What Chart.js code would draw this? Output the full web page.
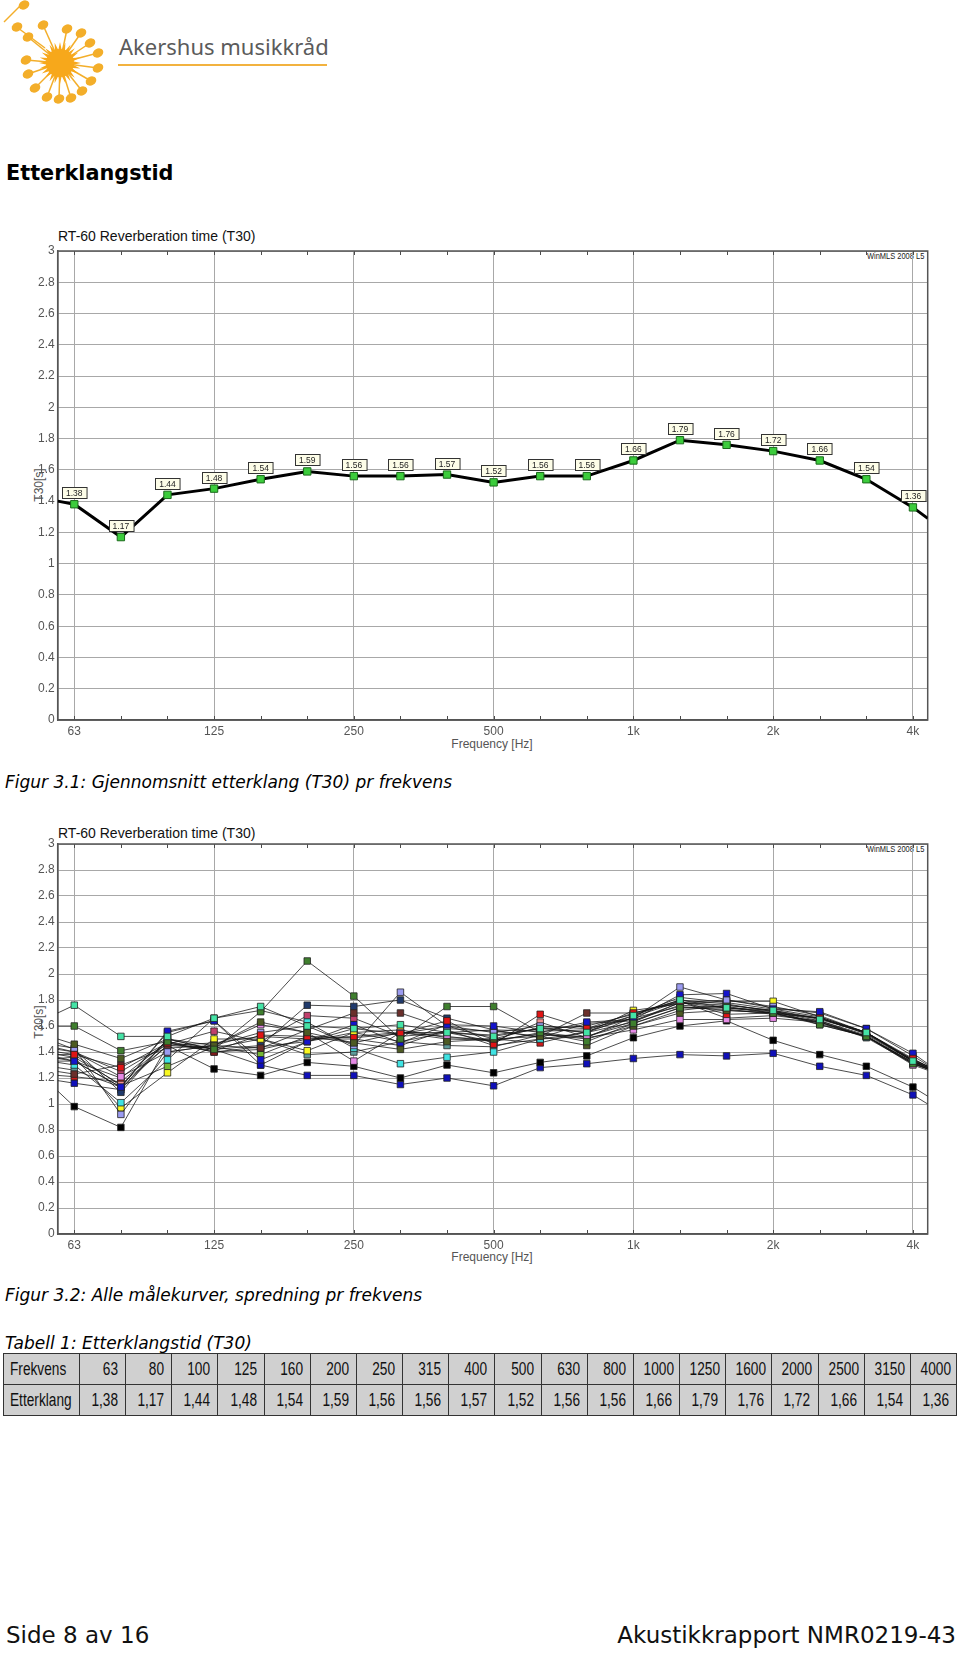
<!DOCTYPE html>
<html><head><meta charset="utf-8">
<script src="https://cdn.jsdelivr.net/npm/chart.js@4.4.1/dist/chart.umd.min.js"></script>
<style>
html,body{margin:0;padding:0;background:#fff;}
#page{position:relative;width:960px;height:1653px;overflow:hidden;font-family:"DejaVu Sans",Verdana,sans-serif;color:#000;}
.abs{position:absolute;white-space:nowrap;line-height:1;}
.ctitle{font-family:"Liberation Sans",Arial,sans-serif;font-size:14px;color:#111;}
.winmls{font-family:"Liberation Sans",Arial,sans-serif;font-size:9px;color:#222;transform:scaleX(0.83);transform-origin:left center;}
.ytitle{font-family:"Liberation Sans",Arial,sans-serif;font-size:12px;color:#555;transform:translate(-50%,-50%) rotate(-90deg);}
.xtitle{font-family:"Liberation Sans",Arial,sans-serif;font-size:12px;color:#555;transform:translate(-50%,-50%);}
.caption{font-family:"DejaVu Sans",Verdana,sans-serif;font-style:italic;font-size:17px;}
#tbl{position:absolute;left:3px;top:1353px;border-collapse:collapse;table-layout:fixed;width:954px;}
#tbl td{border:1.5px solid #333;background:#d0d0d0;height:30px;padding:0 7px 0 0;text-align:right;font-family:"Liberation Sans",Arial,sans-serif;font-size:18px;color:#111;overflow:visible;white-space:nowrap;}
#tbl td span{display:inline-block;transform:scaleX(0.76);transform-origin:right center;}
#tbl td.first{text-align:left;padding:0 0 0 6px;}
#tbl td.first span{transform-origin:left center;}
</style></head><body>
<div id="page">
  <svg id="logo" class="abs" style="left:0;top:0" width="115" height="110" viewBox="0 0 115 110"></svg>
  <div class="abs" style="left:119px;top:35px;font-family:'Noto Sans',sans-serif;font-size:22px;color:#5b5b5b;">Akershus musikkråd</div>
  <div class="abs" style="left:118px;top:64px;width:209px;height:2px;background:#f2b23f;"></div>

  <div class="abs" style="left:6px;top:163px;font-family:'DejaVu Sans',Verdana,sans-serif;font-weight:bold;font-size:20.8px;">Etterklangstid</div>

  <div class="abs ctitle" style="left:58px;top:229px;">RT-60 Reverberation time (T30)</div>
  <div class="abs winmls" style="left:867px;top:252px;">WinMLS 2008 L5</div>
  <div class="abs ytitle" style="left:39px;top:485px;">T30[s]</div>
  <div class="abs xtitle" style="left:492px;top:744px;">Frequency [Hz]</div>
  <div class="abs" style="left:0;top:205px;width:960px;height:560px;"><canvas id="c1" width="960" height="560"></canvas></div>

  <div class="abs caption" style="left:5px;top:774px;">Figur 3.1: Gjennomsnitt etterklang (T30) pr frekvens</div>

  <div class="abs ctitle" style="left:58px;top:826px;">RT-60 Reverberation time (T30)</div>
  <div class="abs winmls" style="left:867px;top:845px;">WinMLS 2008 L5</div>
  <div class="abs ytitle" style="left:39px;top:1022px;">T30[s]</div>
  <div class="abs xtitle" style="left:492px;top:1257px;">Frequency [Hz]</div>
  <div class="abs" style="left:0;top:790px;width:960px;height:480px;"><canvas id="c2" width="960" height="480"></canvas></div>

  <div class="abs caption" style="left:5px;top:1287px;">Figur 3.2: Alle målekurver, spredning pr frekvens</div>

  <div class="abs caption" style="left:5px;top:1335px;">Tabell 1: Etterklangstid (T30)</div>
  <table id="tbl"></table>

  <div class="abs" style="left:6px;top:1624px;font-size:23px;color:#111;">Side 8 av 16</div>
  <div class="abs" style="right:4px;top:1624px;font-size:23px;color:#111;">Akustikkrapport NMR0219-43</div>
</div>
<script>
// ---------------- DATA ----------------
const bandCenters = ['63','80','100','125','160','200','250','315','400','500','630','800','1000','1250','1600','2000','2500','3150','4000'];
const octaveTickIndex = [0,3,6,9,12,15,18];
const octaveTickLabels = ['63','125','250','500','1k','2k','4k'];
const avgT30 = [1.38,1.17,1.44,1.48,1.54,1.59,1.56,1.56,1.57,1.52,1.56,1.56,1.66,1.79,1.76,1.72,1.66,1.54,1.36];
const avgEdges = [1.40,1.29];

const curveMint     = [1.76,1.52,1.52,1.66,1.75,1.60,1.58,1.61,1.55,1.52,1.58,1.55,1.68,1.80,1.74,1.72,1.65,1.55,1.33];
const curveDkGreen  = [1.60,1.41,1.48,1.42,1.71,2.10,1.83,1.50,1.75,1.75,1.55,1.48,1.62,1.74,1.75,1.70,1.61,1.52,1.31];
const curveOlive    = [1.46,1.35,1.50,1.45,1.63,1.55,1.47,1.42,1.48,1.50,1.52,1.45,1.60,1.70,1.72,1.70,1.63,1.52,1.32];
const curveRed      = [1.38,1.28,1.47,1.41,1.53,1.52,1.51,1.54,1.64,1.46,1.69,1.58,1.70,1.79,1.69,1.70,1.66,1.55,1.35];
const curveBlue     = [1.33,1.13,1.56,1.64,1.34,1.48,1.61,1.47,1.61,1.60,1.55,1.63,1.65,1.84,1.85,1.73,1.71,1.58,1.39];
const curveLavender = [1.43,0.92,1.40,1.45,1.55,1.60,1.45,1.86,1.60,1.55,1.60,1.58,1.66,1.90,1.80,1.75,1.68,1.55,1.34];
const curveViolet   = [1.40,1.21,1.40,1.45,1.61,1.55,1.33,1.55,1.52,1.48,1.55,1.51,1.57,1.65,1.65,1.66,1.63,1.52,1.30];
const curveCyan     = [1.30,1.01,1.34,1.66,1.72,1.63,1.43,1.31,1.36,1.40,1.50,1.55,1.63,1.78,1.76,1.72,1.66,1.54,1.33];
const curveYellow   = [1.36,0.97,1.24,1.50,1.50,1.41,1.55,1.57,1.51,1.50,1.59,1.55,1.72,1.77,1.79,1.79,1.67,1.55,1.33];
const curveBrown    = [1.23,1.30,1.43,1.45,1.43,1.57,1.70,1.70,1.58,1.56,1.52,1.70,1.70,1.78,1.74,1.70,1.62,1.52,1.32];
const curveNavy     = [1.42,1.09,1.50,1.42,1.45,1.76,1.75,1.80,1.66,1.57,1.56,1.57,1.68,1.82,1.78,1.73,1.67,1.55,1.34];
const curveMaroon   = [1.40,1.25,1.46,1.56,1.48,1.68,1.66,1.52,1.55,1.53,1.58,1.60,1.69,1.80,1.77,1.71,1.66,1.54,1.34];
const curveSalmon   = [1.36,1.15,1.45,1.47,1.52,1.50,1.52,1.55,1.55,1.48,1.63,1.51,1.67,1.79,1.66,1.68,1.64,1.53,1.33];
const curveGreen    = [1.38,1.14,1.29,1.44,1.38,1.52,1.47,1.55,1.50,1.49,1.54,1.50,1.60,1.72,1.76,1.72,1.61,1.52,1.31];
const curveTeal     = [1.26,1.13,1.45,1.43,1.50,1.38,1.40,1.48,1.45,1.44,1.53,1.52,1.62,1.74,1.73,1.69,1.63,1.51,1.31];
const curveRed2     = [1.21,1.17,1.47,1.40,1.44,1.48,1.58,1.54,1.60,1.50,1.47,1.56,1.66,1.75,1.72,1.70,1.66,1.55,1.33];
const curveGrey     = [1.33,1.20,1.48,1.40,1.42,1.50,1.50,1.45,1.57,1.45,1.50,1.52,1.64,1.76,1.74,1.71,1.64,1.52,1.32];
const curveBlue3    = [1.33,1.13,1.55,1.64,1.30,1.48,1.55,1.48,1.55,1.57,1.51,1.62,1.64,1.78,1.80,1.74,1.70,1.58,1.37];
const curveBlack    = [0.98,0.82,1.45,1.27,1.22,1.32,1.29,1.20,1.30,1.24,1.32,1.37,1.51,1.60,1.64,1.49,1.38,1.29,1.13];
const curveBlueLow  = [1.16,1.11,1.50,1.42,1.30,1.22,1.22,1.15,1.20,1.14,1.28,1.31,1.35,1.38,1.37,1.39,1.29,1.22,1.07];

const curveList = [curveMint,curveDkGreen,curveOlive,curveRed,curveBlue,curveLavender,curveViolet,curveCyan,curveYellow,curveBrown,curveNavy,curveMaroon,curveSalmon,curveGreen,curveTeal,curveRed2,curveGrey,curveBlue3,curveBlack,curveBlueLow];
const curveColors = ['#45e3a6','#3f7f2e','#4d5a22','#e01414','#1414cc','#9b9bf0','#e68ae6','#3fe3e3','#f8f820','#6a2e2a','#203a6c','#c0406c','#f09090','#74b834','#5e9c9a','#cc1a1a','#3a3a3a','#0c0cbb','#000000','#1010b8'];
const curveEdgeLeft  = [1.70,1.60,1.50,1.40,1.35,1.45,1.43,1.32,1.35,1.25,1.47,1.42,1.38,1.38,1.28,1.22,1.36,1.33,1.10,1.18];
const curveEdgeRight = [1.28,1.27,1.28,1.29,1.31,1.29,1.26,1.28,1.28,1.27,1.29,1.29,1.28,1.27,1.27,1.28,1.27,1.30,1.06,1.00];

// ---------------- helpers ----------------
const X_MIN = -0.356, X_MAX = 18.317;
function toPoints(vals, edges){
  const pts = [{x:X_MIN, y:edges[0]}];
  vals.forEach((v,i)=>pts.push({x:i,y:v}));
  pts.push({x:X_MAX, y:edges[1]});
  return pts;
}
const isEdge = ctx => ctx.dataIndex===0 || ctx.dataIndex===ctx.dataset.data.length-1;

const framePlugin = {
  id:'frame',
  beforeDatasetsDraw(chart){
    const {ctx, chartArea:a, scales:{x}} = chart;
    ctx.save();
    ctx.strokeStyle='#4a4a4a'; ctx.lineWidth=1;
    for(let i=0;i<bandCenters.length;i++){
      const px = Math.round(x.getPixelForValue(i))+0.5;
      ctx.beginPath(); ctx.moveTo(px,a.bottom); ctx.lineTo(px,a.bottom-4); ctx.stroke();
      ctx.beginPath(); ctx.moveTo(px,a.top); ctx.lineTo(px,a.top+4); ctx.stroke();
    }
    ctx.strokeStyle='#555'; ctx.lineWidth=1.5;
    ctx.strokeRect(a.left,a.top,a.right-a.left,a.bottom-a.top);
    ctx.restore();
  }
};

const labelPlugin = {
  id:'valueBoxes',
  afterDatasetsDraw(chart){
    const meta = chart.getDatasetMeta(0);
    const {ctx} = chart;
    ctx.save();
    ctx.font = '8.5px "Liberation Sans", Arial, sans-serif';
    ctx.textAlign='center'; ctx.textBaseline='middle';
    meta.data.forEach((el,i)=>{
      if(i===0 || i===meta.data.length-1) return;
      const v = chart.data.datasets[0].data[i].y;
      const txt = v.toFixed(2);
      const w = ctx.measureText(txt).width + 8, h = 11;
      const bx = Math.round(el.x - w/2)+0.5, by = Math.round(el.y - 6 - h)+0.5;
      ctx.fillStyle='#fdfde8'; ctx.fillRect(bx,by,w,h);
      ctx.strokeStyle='#333'; ctx.lineWidth=1; ctx.strokeRect(bx,by,w,h);
      ctx.fillStyle='#222'; ctx.fillText(txt, el.x, by+h/2+0.5);
    });
    ctx.restore();
  }
};

function makeScales(xHeight){
  return {
    x:{
      type:'linear', min:X_MIN, max:X_MAX,
      afterBuildTicks(s){ s.ticks = octaveTickIndex.map(v=>({value:v})); },
      afterFit(s){ s.height = xHeight; },
      grid:{color:'#a8a8a8', lineWidth:1, drawTicks:false},
      border:{display:true, color:'#555', width:1.5},
      ticks:{autoSkip:false, maxRotation:0, padding:4, color:'#555',
        font:{family:'"Liberation Sans", Arial, sans-serif', size:12},
        callback:(v)=>{ const k = octaveTickIndex.indexOf(v); return k>=0 ? octaveTickLabels[k] : ''; }}
    },
    y:{
      min:0, max:3,
      afterFit(s){ s.width = 57.7; },
      grid:{color:'#a8a8a8', lineWidth:1, drawTicks:false},
      border:{display:true, color:'#555', width:1.5},
      ticks:{stepSize:0.2, padding:3, color:'#555',
        font:{family:'"Liberation Sans", Arial, sans-serif', size:12},
        callback:(v)=>String(+(+v).toFixed(1))}
    }
  };
}

// ---------------- chart 1 ----------------
new Chart(document.getElementById('c1'), {
  type:'line',
  data:{datasets:[{
    data: toPoints(avgT30, avgEdges),
    borderColor:'#000', borderWidth:3, tension:0,
    pointStyle:'rect',
    pointRadius: ctx => isEdge(ctx) ? 0 : 5.2,
    pointBackgroundColor:'#3ccc3c', pointBorderColor:'#1a6a1a', pointBorderWidth:1
  }]},
  options:{
    responsive:false, animation:false,
    layout:{padding:{top:46, right:32.3, left:0, bottom:0}},
    plugins:{legend:{display:false}, tooltip:{enabled:false}, title:{display:false}},
    scales: makeScales(45)
  },
  plugins:[framePlugin, labelPlugin]
});

// ---------------- chart 2 ----------------
new Chart(document.getElementById('c2'), {
  type:'line',
  data:{datasets: curveList.map((vals,k)=>({
    data: toPoints(vals, [curveEdgeLeft[k], curveEdgeRight[k]]),
    borderColor:'rgba(20,20,20,0.85)', borderWidth:0.9, tension:0,
    pointStyle:'rect',
    pointRadius: ctx => isEdge(ctx) ? 0 : 4.6,
    pointBackgroundColor: curveColors[k], pointBorderColor:'#222', pointBorderWidth:0.8
  }))},
  options:{
    responsive:false, animation:false,
    layout:{padding:{top:54, right:32.3, left:0, bottom:0}},
    plugins:{legend:{display:false}, tooltip:{enabled:false}, title:{display:false}},
    scales: makeScales(36)
  },
  plugins:[framePlugin]
});

// ---------------- table ----------------
(function(){
  const t = document.getElementById('tbl');
  let h = '<colgroup><col style="width:76px">' + bandCenters.map(()=>'<col>').join('') + '</colgroup>';
  h += '<tr><td class="first"><span>Frekvens</span></td>' + bandCenters.map(f=>'<td><span>'+f+'</span></td>').join('') + '</tr>';
  h += '<tr><td class="first"><span>Etterklang</span></td>' + avgT30.map(v=>'<td><span>'+v.toFixed(2).replace('.',',')+'</span></td>').join('') + '</tr>';
  t.innerHTML = h;
})();

// ---------------- logo ----------------
(function(){
  const svg = document.getElementById('logo');
  const NS='http://www.w3.org/2000/svg';
  const col='#f3ae2a';
  const cx=60, cy=63;
  function el(n,a){const e=document.createElementNS(NS,n);for(const k in a)e.setAttribute(k,a[k]);svg.appendChild(e);return e;}
  const heads=[[28,37],[43,25],[67,29],[81,33],[90,43],[98,53],[98,68],[91,81],[82,91],[71,98],[59,99],[47,97],[35,88],[28,74],[26,60]];
  heads.forEach(([hx,hy])=>{
    el('line',{x1:cx,y1:cy,x2:hx,y2:hy,stroke:col,'stroke-width':1.5});
    el('ellipse',{cx:hx,cy:hy,rx:5.6,ry:4.3,fill:col,transform:`rotate(-30 ${hx} ${hy})`});
  });
  el('line',{x1:4,y1:22,x2:21,y2:5,stroke:col,'stroke-width':1.5});
  el('ellipse',{cx:24,cy:5,rx:5.6,ry:4.3,fill:col,transform:'rotate(-30 24 5)'});
  el('line',{x1:18,y1:28,x2:45,y2:48,stroke:col,'stroke-width':1.5});
  el('ellipse',{cx:17,cy:27,rx:5.6,ry:4.3,fill:col,transform:'rotate(-30 17 27)'});
  let pts=[];
  for(let i=0;i<48;i++){const r=i%2?13:21;const a=i*Math.PI/24;pts.push((cx+r*Math.cos(a)).toFixed(1)+','+(cy+r*Math.sin(a)).toFixed(1));}
  el('polygon',{points:pts.join(' '),fill:'#f7a81b'});
  el('circle',{cx:cx,cy:cy,r:14,fill:'#f7a81b'});
})();
</script>
</body></html>
